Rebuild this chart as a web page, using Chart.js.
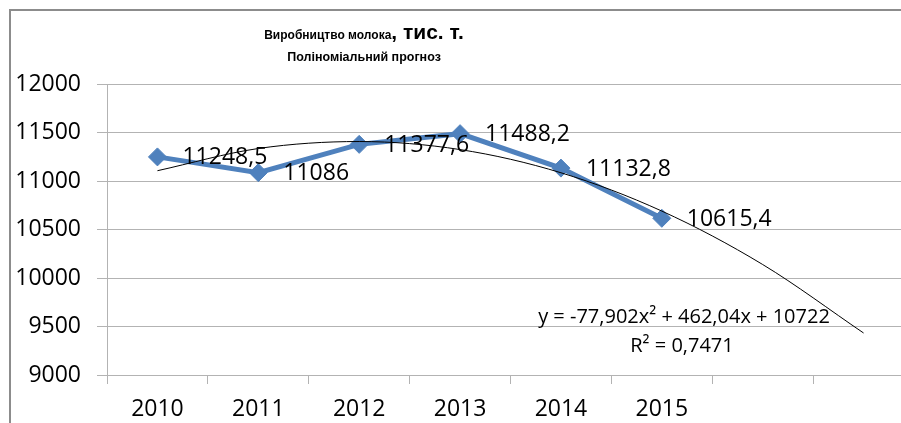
<!DOCTYPE html>
<html>
<head>
<meta charset="utf-8">
<script src="https://cdn.jsdelivr.net/npm/chart.js@4/dist/chart.umd.min.js"></script>
<style>
  html, body { margin: 0; padding: 0; width: 901px; height: 423px; overflow: hidden; background: #fff; }
  #frame { position: absolute; left: 9px; top: 9px; border-left: 2px solid #8c8c8c; border-top: 2px solid #8c8c8c; width: 920px; height: 430px; }
  canvas { display: block; }
</style>
</head>
<body>
<div id="frame"><canvas id="c" width="913" height="420"></canvas></div>
<script>
// ---- data ----
const categories = ['2010', '2011', '2012', '2013', '2014', '2015', '', ''];
const production = [11248.5, 11086, 11377.6, 11488.2, 11132.8, 10615.4, null, null];
// polynomial trend line (extends two periods ahead)
const trendValues = [11106, 11335, 11407, 11324, 11085, 10690, 10139, 9433];
const yTicks = [9000, 9500, 10000, 10500, 11000, 11500, 12000];
const titleMain = 'Виробництво молока';
const titleUnit = ', тис. т.';
const subtitle = 'Поліноміальний прогноз';
const equationText = 'y = -77,902x² + 462,04x + 10722';
const r2Text = 'R² = 0,7471';

const FONT = "'Open Sans', 'Liberation Sans', Arial, sans-serif";
const TFONT = "'Liberation Sans', Arial, sans-serif";

const extras = {
  id: 'extras',
  afterDatasetsDraw(chart) {
    const ctx = chart.ctx;
    ctx.save();
    // data labels
    const meta = chart.getDatasetMeta(1);
    ctx.fillStyle = '#000';
    ctx.font = '23px ' + FONT;
    ctx.textAlign = 'left';
    ctx.textBaseline = 'middle';
    meta.data.forEach((pt, i) => {
      const v = production[i];
      if (v === null) return;
      ctx.fillText(String(v).replace('.', ','), pt.x + 25, pt.y + 1);
    });
    // title
    ctx.textBaseline = 'alphabetic';
    ctx.font = 'bold 12px ' + TFONT;
    const w1 = ctx.measureText(titleMain).width;
    ctx.font = 'bold 21px ' + TFONT;
    const w2 = ctx.measureText(titleUnit).width;
    const cx = 364 - 11;
    let x0 = cx - (w1 + w2) / 2;
    ctx.font = 'bold 12px ' + TFONT;
    ctx.fillText(titleMain, x0, 39 - 11);
    ctx.font = 'bold 21px ' + TFONT;
    ctx.fillText(titleUnit, x0 + w1, 39 - 11);
    ctx.textAlign = 'center';
    ctx.font = 'bold 12.5px ' + TFONT;
    ctx.fillText(subtitle, cx, 61 - 11);
    // equation
    ctx.font = '20px ' + FONT;
    ctx.fillText(equationText, 684 - 11, 323 - 11);
    ctx.fillText(r2Text, 682 - 11, 352 - 11);
    ctx.restore();
  }
};

new Chart(document.getElementById('c'), {
  type: 'line',
  data: {
    labels: categories,
    datasets: [
      {
        label: 'Тренд',
        data: trendValues,
        borderColor: '#000',
        borderWidth: 1,
        pointRadius: 0,
        cubicInterpolationMode: 'monotone',
        fill: false,
        order: 0
      },
      {
        label: 'Виробництво молока',
        data: production,
        borderColor: '#4F81BD',
        backgroundColor: '#4F81BD',
        borderWidth: 5,
        pointStyle: 'rectRot',
        pointRadius: 9,
        pointBorderWidth: 1,
        pointBorderColor: '#4F81BD',
        pointBackgroundColor: '#4F81BD',
        tension: 0,
        fill: false,
        order: 1
      }
    ]
  },
  options: {
    responsive: false,
    animation: false,
    layout: { padding: { left: 0, top: 73, right: 4, bottom: 0 } },
    plugins: { legend: { display: false }, tooltip: { enabled: false }, title: { display: false } },
    scales: {
      x: {
        offset: true,
        grid: { offset: true, drawOnChartArea: false, drawTicks: true, tickLength: 9, color: '#b3b3b3', lineWidth: 1 },
        border: { display: true, color: '#b3b3b3', width: 1 },
        ticks: { color: '#000', font: { family: FONT, size: 23 }, padding: 12, maxRotation: 0, autoSkip: false },
        afterFit(scale) { scale.height = 420 - (375 - 11); }
      },
      y: {
        min: 9000,
        max: 12000,
        afterBuildTicks(scale) { scale.ticks = yTicks.map(v => ({ value: v })); },
        grid: { color: '#b3b3b3', lineWidth: 1, tickLength: 10, drawTicks: true },
        border: { display: true, color: '#b3b3b3', width: 1 },
        ticks: { color: '#000', font: { family: FONT, size: 23 }, padding: 16, callback: (v) => String(v) },
        afterFit(scale) { scale.width = 107 - 11; }
      }
    }
  },
  plugins: [extras]
});
</script>
</body>
</html>
